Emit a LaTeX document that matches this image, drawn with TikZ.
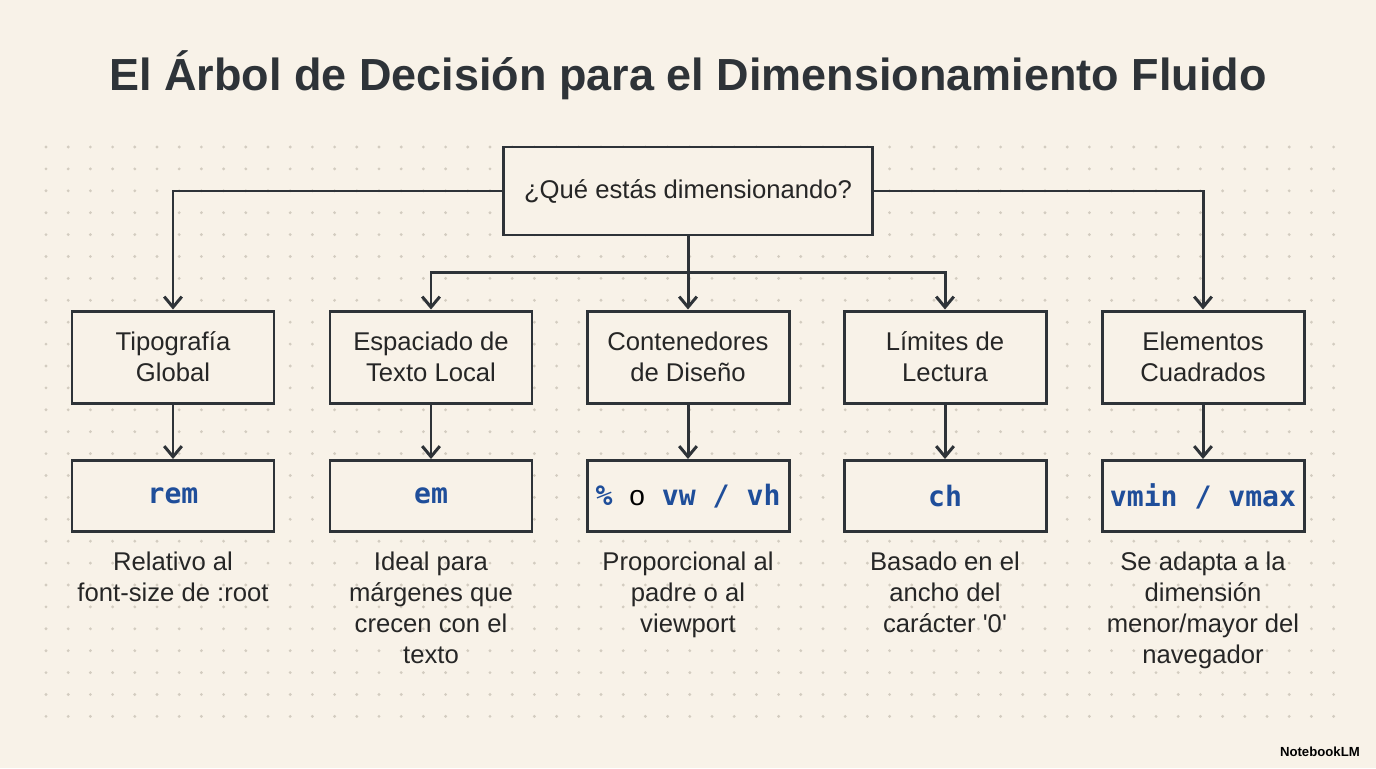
\documentclass[tikz,border=0pt]{standalone}
\usepackage{fontspec}
\setmainfont{Liberation Sans}[Ligatures=TeXOff]
\newfontfamily\codefont{DejaVu Sans Mono}
\usetikzlibrary{arrows.meta}
\definecolor{bg}{HTML}{F8F2E8}
\definecolor{ink}{HTML}{2E3338}
\definecolor{code}{HTML}{1F4E9A}
\definecolor{dot}{HTML}{D3CCC0}
\begin{document}
\begin{tikzpicture}[x=0.02cm,y=-0.02cm,
  box/.style={draw=ink,line width=1.7pt,fill=bg,minimum width=202*0.02cm,align=center,inner sep=0pt},
  cat/.style={box,minimum height=92*0.02cm,font=\fontsize{14.6}{17.6}\selectfont,text=black!85},
  unit/.style={box,minimum height=71*0.02cm,font=\codefont\bfseries\fontsize{16}{18}\selectfont,text=code},
  desc/.style={align=center,font=\fontsize{14.6}{17.6}\selectfont,text=black!85,anchor=north},
  arr/.style={draw=ink,line width=1.7pt,-{Straight Barb[length=6pt,width=10pt]}}]
\fill[bg] (0,0) rectangle (1376,768);
\useasboundingbox (0,0) rectangle (1376,768);
\foreach \i in {0,...,58} \foreach \j in {0,...,26}
  \fill[dot] (46+\i*22.2,147+\j*21.9) circle (0.9pt);
\node[font=\bfseries\fontsize{25.6}{30}\selectfont,text=ink] (title) at (688,75) {El Árbol de Decisión para el Dimensionamiento Fluido};
\node[box,minimum width=369*0.02cm,minimum height=88*0.02cm,font=\fontsize{14.6}{17.6}\selectfont,text=black!85] (q) at (688,191) {¿Qué estás dimensionando?};
\node[cat] (c1) at (173,357) {Tipografía\\Global};
\node[cat] (c2) at (431,357) {Espaciado de\\Texto Local};
\node[cat] (c3) at (688,357) {Contenedores\\de Diseño};
\node[cat] (c4) at (945,357) {Límites de\\Lectura};
\node[cat] (c5) at (1203,357) {Elementos\\Cuadrados};
\node[unit] (u1) at (173,496) {rem};
\node[unit] (u2) at (431,496) {em};
\node[unit] (u3) at (688,496) {\% {\normalfont\mdseries\fontsize{16}{18}\selectfont\color{black}o} vw / vh};
\node[unit] (u4) at (945,496) {ch};
\node[unit] (u5) at (1203,496) {vmin / vmax};
\node[desc] (d1) at (173,546) {Relativo al\\font-size de :root};
\node[desc] (d2) at (431,546) {Ideal para\\márgenes que\\crecen con el\\texto};
\node[desc] (d3) at (688,546) {Proporcional al\\padre o al\\viewport};
\node[desc] (d4) at (945,546) {Basado en el\\ancho del\\carácter '0'};
\node[desc] (d5) at (1203,546) {Se adapta a la\\dimensión\\menor/mayor del\\navegador};
\coordinate (j) at (688,272);
\draw[arr] (q.west) -| (c1.north);
\draw[arr] (q.east) -| (c5.north);
\draw[draw=ink,line width=1.7pt] (q.south) -- (j);
\draw[arr] (j) -- (c3.north);
\draw[arr] (j) -| (c2.north);
\draw[arr] (j) -| (c4.north);
\foreach \k in {1,...,5} \draw[arr] (c\k.south) -- (u\k.north);
\node[font=\bfseries\fontsize{7.5}{9}\selectfont,anchor=east] (nb) at (1366,752) {NotebookLM};
\end{tikzpicture}
\end{document}
